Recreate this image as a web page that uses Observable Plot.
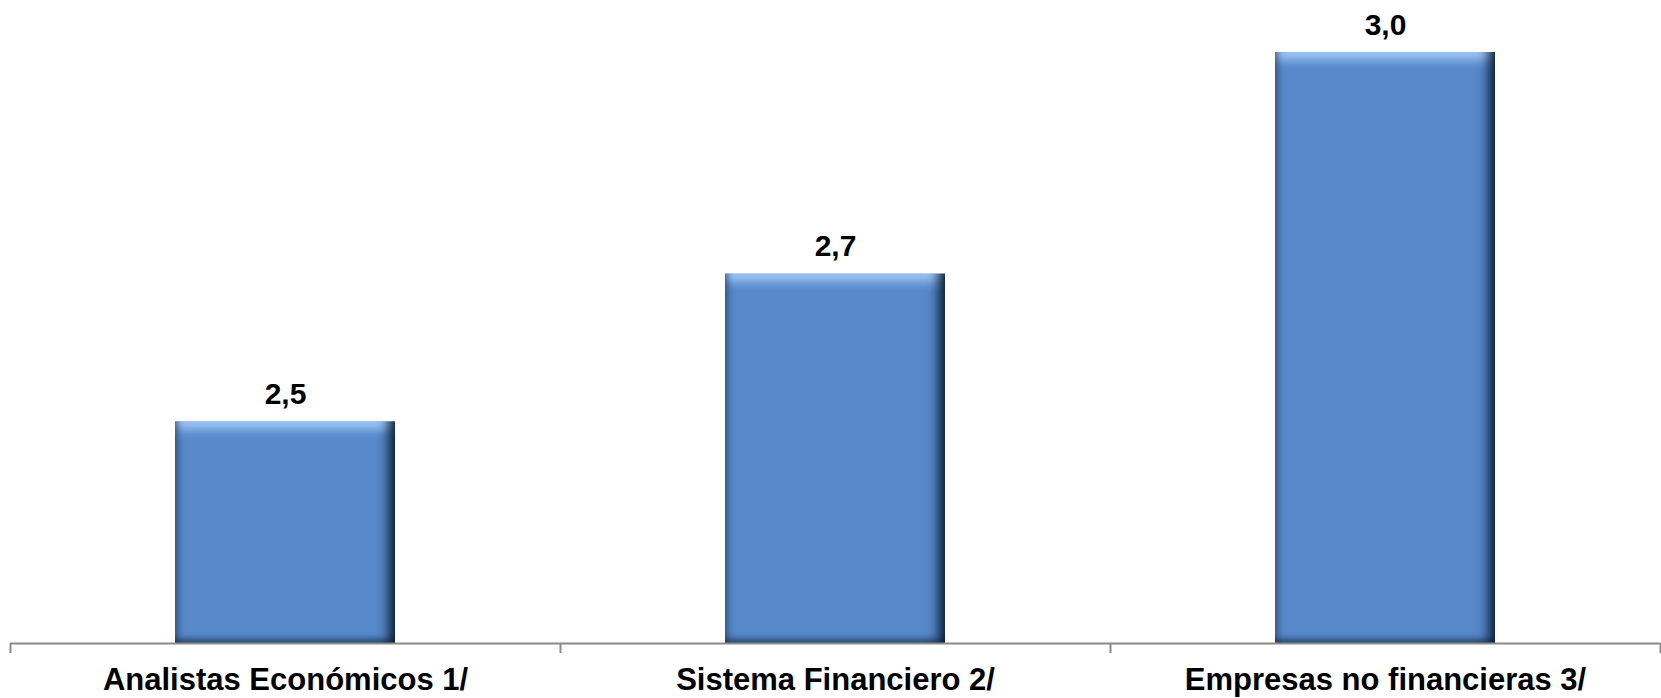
<!DOCTYPE html>
<html>
<head>
<meta charset="utf-8">
<script src="https://cdn.jsdelivr.net/npm/d3@7"></script>
<script src="https://cdn.jsdelivr.net/npm/@observablehq/plot@0.6"></script>
<style>
  html, body { margin: 0; padding: 0; background: #ffffff; }
  #chart { width: 1661px; height: 698px; overflow: hidden; }
</style>
</head>
<body>
<div id="chart"></div>
<script>
// ---- data ----
const categories = ["Analistas Económicos 1/", "Sistema Financiero 2/", "Empresas no financieras 3/"];
const values = [2.5, 2.7, 3.0];
const yMin = 2.2;

// ---- derived table ----
const rows = categories.map((c, i) => ({i, category: c, value: values[i]}));
const bounds = d3.range(categories.length + 1).map(i => i - 0.5);
const fmt = v => d3.format(".1f")(v).replace(".", ",");
const half = 0.2; // bar half-width in band units
const BAR = "#5688ca";

const FONT = "'Liberation Sans', Arial, Helvetica, sans-serif";

const svg = Plot.plot({
  width: 1661,
  height: 698,
  marginLeft: 10,
  marginRight: 1,
  marginTop: 52,
  marginBottom: 55,
  style: {fontFamily: FONT, fontSize: "30px", fontWeight: "bold", color: "#000", background: "#fff"},
  x: {type: "linear", domain: [-0.5, categories.length - 0.5], axis: null, label: null},
  y: {domain: [yMin, d3.max(values)], axis: null, label: null},
  marks: [
    Plot.rectY(rows, {
      x1: d => d.i - half, x2: d => d.i + half,
      y1: yMin, y2: "value",
      fill: BAR
    }),
    Plot.ruleY([yMin], {stroke: "#8a8a8a", strokeWidth: 2}),
    Plot.axisX(bounds, {tickSize: 10, tickFormat: () => "", label: null, stroke: "#8a8a8a", strokeWidth: 2}),
    Plot.axisX(rows.map(d => d.i), {
      tickSize: 0, tickPadding: 24, label: null,
      tickFormat: i => categories[i],
      fontSize: 31, fontWeight: "bold", fill: "#000"
    }),
    Plot.text(rows, {
      x: "i", y: "value", text: d => fmt(d.value),
      dy: -18, lineAnchor: "bottom",
      fontSize: 30, fontWeight: "bold", fill: "#000"
    })
  ]
});

// bevel effect defs
const defs = d3.select(svg).insert("defs", ":first-child");
defs.html(`
<filter id="bevel" x="-3%" y="-3%" width="106%" height="106%" color-interpolation-filters="sRGB">
  <feGaussianBlur in="SourceAlpha" stdDeviation="6 0" result="bx"/>
  <feOffset in="bx" dx="-6" dy="0" result="bxR"/>
  <feComposite in="SourceAlpha" in2="bxR" operator="arithmetic" k1="0" k2="1" k3="-1" k4="0" result="aR"/>
  <feFlood flood-color="#0b1a2e" flood-opacity="1" result="cR"/>
  <feComposite in="cR" in2="aR" operator="in" result="darkR"/>

  <feGaussianBlur in="SourceAlpha" stdDeviation="3 0" result="bx2"/>
  <feOffset in="bx2" dx="3" dy="0" result="bxL"/>
  <feComposite in="SourceAlpha" in2="bxL" operator="arithmetic" k1="0" k2="1" k3="-1" k4="0" result="aL"/>
  <feFlood flood-color="#1f3b60" flood-opacity="0.55" result="cL"/>
  <feComposite in="cL" in2="aL" operator="in" result="darkL"/>

  <feGaussianBlur in="SourceAlpha" stdDeviation="0 6" result="by"/>
  <feOffset in="by" dx="0" dy="7" result="byT"/>
  <feComposite in="SourceAlpha" in2="byT" operator="arithmetic" k1="0" k2="1" k3="-1" k4="0" result="aT"/>
  <feFlood flood-color="#acd2ff" flood-opacity="0.95" result="cT"/>
  <feComposite in="cT" in2="aT" operator="in" result="lightT"/>

  <feGaussianBlur in="SourceAlpha" stdDeviation="0 3" result="by2"/>
  <feOffset in="by2" dx="0" dy="-4" result="byB"/>
  <feComposite in="SourceAlpha" in2="byB" operator="arithmetic" k1="0" k2="1" k3="-1" k4="0" result="aB"/>
  <feFlood flood-color="#1b3352" flood-opacity="0.8" result="cB"/>
  <feComposite in="cB" in2="aB" operator="in" result="darkB"/>

  <feMerge>
    <feMergeNode in="SourceGraphic"/>
    <feMergeNode in="lightT"/>
    <feMergeNode in="darkL"/>
    <feMergeNode in="darkB"/>
    <feMergeNode in="darkR"/>
  </feMerge>
</filter>`);
// apply the bevel to every bar rect (rects drawn with the bar fill)
svg.querySelectorAll("rect").forEach(r => {
  const g = r.closest("g");
  const f = (r.getAttribute("fill") || (g && g.getAttribute("fill")) || "").toLowerCase();
  if (f === BAR) r.setAttribute("filter", "url(#bevel)");
});

document.getElementById("chart").appendChild(svg);
</script>
</body>
</html>
